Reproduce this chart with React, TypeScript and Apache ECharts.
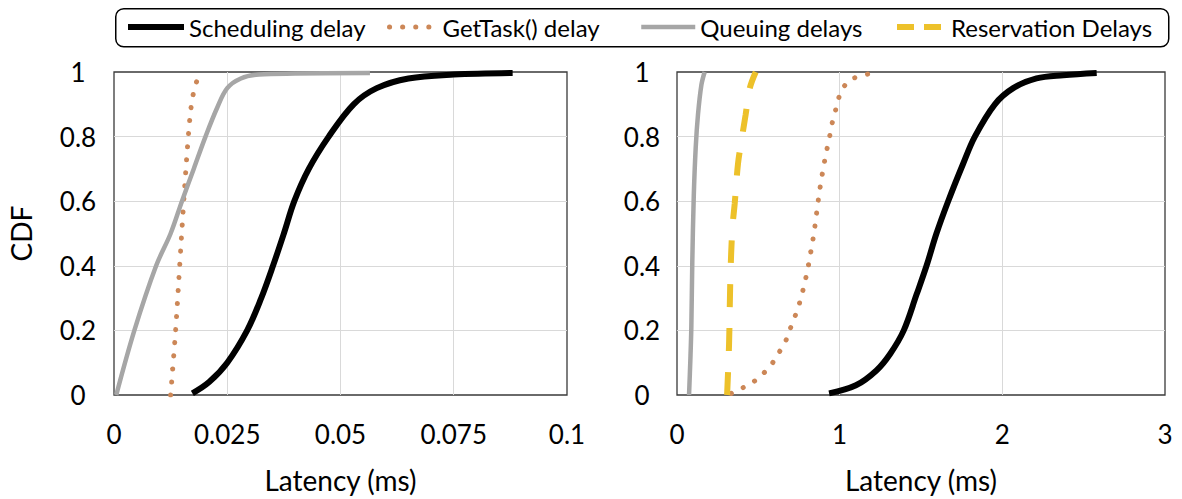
import { useEffect, useRef } from 'react';
import * as echarts from 'echarts';

// Series names and colours (legend order)
const SERIES_NAMES = ['Scheduling delay', 'GetTask() delay', 'Queuing delays', 'Reservation Delays'];
const SERIES_COLORS = ['#000000', '#CC8757', '#A6A6A6', '#EDC12A'];

// Tick labels
const LEFT_X_TICKS = ['0', '0.025', '0.05', '0.075', '0.1'];
const RIGHT_X_TICKS = ['0', '1', '2', '3'];
const Y_TICKS = ['0', '0.2', '0.4', '0.6', '0.8', '1'];

// Left panel: [latency ms, CDF]
const leftScheduling: [number, number][] = [
  [0.0173, 0.005], [0.021, 0.04], [0.025, 0.1], [0.0294, 0.2], [0.0325, 0.3],
  [0.0351, 0.4], [0.0375, 0.5], [0.0398, 0.6], [0.043, 0.7], [0.0474, 0.8],
  [0.0529, 0.9], [0.058, 0.95], [0.065, 0.98], [0.075, 0.992], [0.088, 0.997],
];
const leftGetTask: [number, number][] = [
  [0.0125, 0], [0.0136, 0.2], [0.0145, 0.4], [0.0154, 0.6], [0.0164, 0.8],
  [0.0171, 0.9], [0.0178, 0.95], [0.0186, 0.985],
];
const leftQueuing: [number, number][] = [
  [0.0005, 0], [0.0045, 0.2], [0.0093, 0.4], [0.0125, 0.5], [0.015, 0.6],
  [0.0176, 0.7], [0.0202, 0.8], [0.0228, 0.89], [0.025, 0.95], [0.028, 0.98],
  [0.032, 0.992], [0.04, 0.995], [0.0565, 0.997],
];

// Right panel: [latency ms, CDF]
const rightScheduling: [number, number][] = [
  [0.935, 0.005], [1.1, 0.03], [1.226, 0.076], [1.31, 0.127], [1.394, 0.2],
  [1.472, 0.31], [1.534, 0.4], [1.595, 0.5], [1.667, 0.6], [1.759, 0.716],
  [1.831, 0.8], [1.954, 0.9], [2.067, 0.95], [2.21, 0.98], [2.374, 0.99], [2.58, 0.997],
];
const rightGetTask: [number, number][] = [
  [0.334, 0.005], [0.396, 0.02], [0.468, 0.04], [0.529, 0.066], [0.58, 0.094],
  [0.621, 0.127], [0.662, 0.16], [0.689, 0.196], [0.718, 0.234], [0.744, 0.269],
  [0.765, 0.307], [0.785, 0.345], [0.8, 0.383], [0.816, 0.421], [0.828, 0.46],
  [0.841, 0.497], [0.851, 0.535], [0.861, 0.574], [0.871, 0.612], [0.882, 0.65],
  [0.894, 0.687], [0.908, 0.726], [0.923, 0.764], [0.939, 0.802], [0.953, 0.84],
  [0.972, 0.876], [0.992, 0.916], [1.017, 0.947], [1.062, 0.975], [1.113, 0.985],
  [1.185, 0.995],
];
const rightQueuing: [number, number][] = [
  [0.074, 0], [0.082, 0.107], [0.088, 0.208], [0.094, 0.411], [0.103, 0.614],
  [0.115, 0.766], [0.129, 0.868], [0.15, 0.96], [0.17, 1.0],
];
const rightReservation: [number, number][] = [
  [0.308, 0], [0.32, 0.157], [0.328, 0.36], [0.34, 0.513], [0.355, 0.594],
  [0.375, 0.716], [0.396, 0.787], [0.422, 0.868], [0.447, 0.949], [0.484, 1.0],
];

const FONT = 'Lato';

const lineStyles: any[] = [
  { width: 6, type: 'solid' },
  { width: 5, type: [0.1, 13], cap: 'round' },
  { width: 4.5, type: 'solid' },
  { width: 6, type: [23, 21], cap: 'butt' },
];

// Legend entry placement: icon left edge and icon width
const LEGEND_LEFT = [125, 387, 639, 894];
const LEGEND_ICON_W = [56, 48, 54, 49];

function makeSeries(idx: number, data: [number, number][], panel: number) {
  return {
    name: SERIES_NAMES[idx],
    type: 'line',
    xAxisIndex: panel,
    yAxisIndex: panel,
    data,
    showSymbol: false,
    symbol: 'none',
    smooth: 0.35,
    color: SERIES_COLORS[idx],
    lineStyle: { color: SERIES_COLORS[idx], ...lineStyles[idx] },
  };
}

function xAxis(panel: number, max: number, interval: number, ticks: string[]) {
  return {
    type: 'value',
    gridIndex: panel,
    min: 0,
    max,
    interval,
    axisLine: { show: false },
    axisTick: { show: false },
    splitLine: {
      show: true,
      showMinLine: false,
      showMaxLine: false,
      lineStyle: { color: '#D9D9D9', width: 1 },
    },
    axisLabel: {
      fontFamily: FONT,
      fontSize: 26,
      color: '#000',
      margin: 39,
      verticalAlign: 'middle',
      formatter: (v: number) => ticks[Math.round(v / interval)] ?? '',
    },
    name: 'Latency (ms)',
    nameLocation: 'middle',
    nameGap: 85,
    nameTextStyle: { fontFamily: FONT, fontSize: 28, color: '#000', verticalAlign: 'middle' },
  };
}

function yAxis(panel: number, margin: number, withName: boolean) {
  return {
    type: 'value',
    gridIndex: panel,
    min: 0,
    max: 1,
    interval: 0.2,
    axisLine: { show: false },
    axisTick: { show: false },
    splitLine: {
      show: true,
      showMinLine: false,
      showMaxLine: false,
      lineStyle: { color: '#D9D9D9', width: 1 },
    },
    axisLabel: {
      fontFamily: FONT,
      fontSize: 26,
      color: '#000',
      margin,
      align: 'center',
      formatter: (v: number) => Y_TICKS[Math.round(v / 0.2)] ?? '',
    },
    name: withName ? 'CDF' : '',
    nameLocation: 'middle',
    nameGap: 93,
    nameRotate: 90,
    nameTextStyle: { fontFamily: FONT, fontSize: 28, color: '#000', verticalAlign: 'middle' },
  };
}

export default function App() {
  const ref = useRef<HTMLDivElement>(null);

  useEffect(() => {
    if (!ref.current) return;
    const chart = echarts.init(ref.current, null, { renderer: 'svg' });
    const gridBase = {
      show: true,
      borderColor: '#3A3A3A',
      borderWidth: 1.3,
      backgroundColor: 'transparent',
      containLabel: false,
    };
    const legends = SERIES_NAMES.map((name, i) => ({
      data: [i === 3 ? { name, lineStyle: { type: [17, 10] } } : { name }],
      left: LEGEND_LEFT[i],
      top: 15,
      padding: 0,
      orient: 'horizontal',
      itemWidth: LEGEND_ICON_W[i],
      itemHeight: 24,
      itemStyle: { color: 'transparent', borderWidth: 0, opacity: 0 },
      lineStyle: { width: 'inherit' },
      textStyle: { fontFamily: FONT, fontSize: 24, color: '#000' },
    }));
    chart.setOption({
      animation: false,
      backgroundColor: '#FFFFFF',
      grid: [
        { ...gridBase, left: 114, top: 72, width: 453, height: 329 },
        { ...gridBase, left: 677, top: 72, width: 488, height: 329 },
      ],
      graphic: [
        {
          type: 'rect',
          left: 115,
          top: 8,
          shape: { width: 1053, height: 38, r: 8 },
          style: { fill: 'transparent', stroke: '#000', lineWidth: 1.5 },
          silent: true,
        },
      ],
      legend: legends,
      xAxis: [
        xAxis(0, 0.1, 0.025, LEFT_X_TICKS),
        xAxis(1, 3, 1, RIGHT_X_TICKS),
      ],
      yAxis: [yAxis(0, 36, true), yAxis(1, 35, false)],
      series: [
        makeSeries(0, leftScheduling, 0),
        makeSeries(1, leftGetTask, 0),
        makeSeries(2, leftQueuing, 0),
        makeSeries(0, rightScheduling, 1),
        makeSeries(1, rightGetTask, 1),
        makeSeries(2, rightQueuing, 1),
        makeSeries(3, rightReservation, 1),
      ],
    });
    return () => chart.dispose();
  }, []);

  return (
    <div
      ref={ref}
      style={{ position: 'fixed', left: 0, top: 0, width: 1182, height: 499 }}
    />
  );
}
